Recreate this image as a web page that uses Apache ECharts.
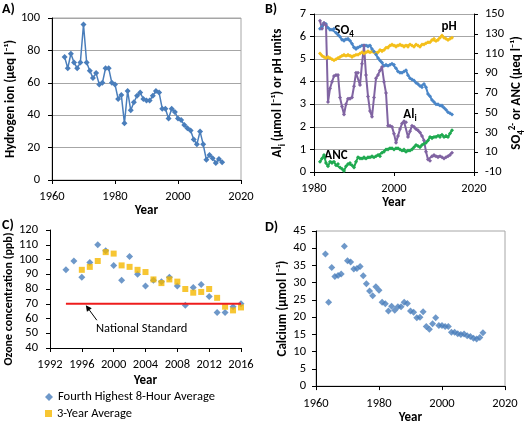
<!DOCTYPE html>
<html><head><meta charset="utf-8">
<script src="https://cdn.jsdelivr.net/npm/echarts@6/dist/echarts.min.js"></script>
<style>html,body{margin:0;padding:0;background:#fff}#c{width:527px;height:425px}</style>
</head><body><div id="c"></div>
<script>
// ---------- Panel A: hydrogen ion ----------
const aYears = [1964,1965,1966,1967,1968,1969,1970,1971,1972,1973,1974,1975,1976,1977,1978,1979,1980,1981,1982,1983,1984,1985,1986,1987,1988,1989,1990,1991,1992,1993,1994,1995,1996,1997,1998,1999,2000,2001,2002,2003,2004,2005,2006,2007,2008,2009,2010,2011,2012,2013,2014];
const aHydrogen = [76,69,78,72.5,69,72.5,96,72.5,67.5,63,66,59,60,69,69,60,59,50,52.5,35,55,43,48,52,54,50,49,49,52,55,54,44,44,38,44,42,38,37,34,32,30.5,25,22,30,22,12.5,15.5,13.5,10.5,13,11];

// ---------- Panel B: stream chemistry ----------
const bYears = [1981.5,1982,1982.5,1983,1983.5,1984,1984.5,1985,1985.5,1986,1986.5,1987,1987.5,1988,1988.5,1989,1989.5,1990,1990.5,1991,1991.5,1992,1992.5,1993,1993.5,1994,1994.5,1995,1995.5,1996,1996.5,1997,1997.5,1998,1998.5,1999,1999.5,2000,2000.5,2001,2001.5,2002,2002.5,2003,2003.5,2004,2004.5,2005,2005.5,2006,2006.5,2007,2007.5,2008,2008.5,2009,2009.5,2010,2010.5,2011,2011.5,2012,2012.5,2013,2013.5,2014,2014.5];
const bSO4 = [135,137,141,140,136,134,134,135,131,129,127,124,123,124.5,125,123,120,116,114.5,116,117,118,118,118,117,118,114.5,112,109,105.5,103,101,97.5,98.5,97.5,98.5,99.7,98.5,95,91.7,90.6,90.6,91.7,93,88,85,83.7,82.6,80.3,79,77,75.7,79,75.7,69,66.6,63,61,58.6,58.6,57.4,57.4,55,53,50.6,49.4,48.3];
const bPH = [5.25,5.15,5.1,5.05,5.1,5.05,5.0,4.95,5.0,5.05,5.1,5.15,5.2,5.15,5.2,5.15,5.1,5.15,5.2,5.2,5.25,5.3,5.25,5.3,5.35,5.3,5.35,5.3,5.25,5.3,5.4,5.35,5.4,5.5,5.5,5.6,5.65,5.6,5.55,5.6,5.65,5.6,5.55,5.6,5.55,5.65,5.6,5.55,5.65,5.6,5.55,5.65,5.65,5.7,5.75,5.75,5.85,5.9,5.8,5.85,5.95,6.05,5.95,5.9,5.85,5.9,5.95];
const bAli = [6.7,6.35,6.6,6.5,3.1,3.7,4.0,4.25,4.3,4.3,3.3,2.9,2.55,3.0,3.25,3.25,3.3,3.8,4.4,4.4,3.85,4.8,5.6,4.3,3.35,2.7,2.45,3.3,4.15,4.3,4.5,4.65,4.0,3.5,2.05,2.05,2.0,1.7,1.3,1.6,1.9,2.15,2.25,2.2,1.55,1.8,2.05,2.0,1.9,1.85,1.75,1.6,1.4,0.9,0.55,0.5,0.7,0.75,0.7,0.65,0.7,0.65,0.6,0.65,0.7,0.75,0.85];
const bANC = [0.3,3.7,7.1,-0.9,-4.3,0.3,-0.9,0.3,-3.1,-2.0,-5.4,-6.6,-8.9,-4.3,-2.0,-0.9,-3.1,-5.4,0.3,4.9,3.7,3.7,4.9,3.7,4.9,4.9,6.0,4.9,6.0,7.1,6.0,9.4,10.6,12.9,12.9,14.0,14.0,12.9,14.0,14.0,12.9,11.7,12.9,10.6,11.7,11.7,12.9,15.1,17.4,16.3,15.1,17.4,18.6,19.7,22.0,25.4,24.3,25.4,25.4,26.6,25.4,27.7,25.4,26.6,25.4,28.9,32.3];

// ---------- Panel C: ozone ----------
const cYears = [1994,1995,1996,1997,1998,1999,2000,2001,2002,2003,2004,2005,2006,2007,2008,2009,2010,2011,2012,2013,2014,2015,2016];
const cFourthHighest = [93,99,88,98,110,106,96,86,102,90,82,86,85,88,82,69,81,83,75,64,64,68,70];
const cThreeYear = [null,null,93,95,99,105,104,96,95,93,91.5,86.5,84,86.5,85,80,77.5,78,80,74,68,65.5,67.5];
const cStandardYears = [1994,2016];
const cStandardValue = 70;
const cLegendNames = ['Fourth Highest 8-Hour Average','3-Year Average'];

// ---------- Panel D: calcium ----------
const dYears = [1963,1964,1965,1966,1967,1968,1969,1970,1971,1972,1973,1974,1975,1976,1977,1978,1979,1980,1981,1982,1983,1984,1985,1986,1987,1988,1989,1990,1991,1992,1993,1994,1995,1996,1997,1998,1999,2000,2001,2002,2003,2004,2005,2006,2007,2008,2009,2010,2011,2012,2013];
const dCalcium = [38.3,24.3,34.4,31.8,32.1,32.5,40.6,36.4,36.0,34.0,34.1,34.7,32.0,29.7,27.6,26.2,28.8,27.8,24.3,23.9,21.8,23.2,22.0,23.0,23.0,24.3,24.0,21.8,21.4,19.8,20.0,21.6,17.3,16.5,18.1,19.8,17.6,17.6,17.3,17.3,15.6,15.6,15.2,15.0,15.1,14.6,14.4,13.9,13.7,14.1,15.5];

const FONT = 'Carlito, Lato, "Open Sans", sans-serif';
function pairs(xs, ys){ const out=[]; xs.forEach((x,i)=>{ if(ys[i]!=null) out.push([x,ys[i]]); }); return out; }

const axLine = {show:true, onZero:false, lineStyle:{color:'#000', width:1}};
const tick = {show:true, length:4, lineStyle:{color:'#000'}};
function lab(m){ return {fontSize:12.5, color:'#000', margin:m, fontFamily:FONT, formatter:function(v){return String(v);}}; }
const nameStyle = {fontSize:13, fontWeight:'bold', color:'#000', fontFamily:FONT};
const grey = '#a6a6a6';

function xAx(gi, min, max, iv, margin, gap){
  return {type:'value', gridIndex:gi, min:min, max:max, interval:iv, axisLine:axLine, axisTick:tick,
    splitLine:{show:false}, axisLabel:lab(margin), name:'Year', nameLocation:'middle', nameGap:gap, nameTextStyle:nameStyle};
}

const blue = '#4a7ebb';
const richName = {
  n:{fontSize:13, fontWeight:'bold', color:'#000', fontFamily:FONT, lineHeight:18},
  s:{fontSize:9, fontWeight:'bold', color:'#000', fontFamily:FONT, lineHeight:9, verticalAlign:'bottom'},
  p:{fontSize:9, fontWeight:'bold', color:'#000', fontFamily:FONT, lineHeight:9, verticalAlign:'top'}
};
const legendText = {fontSize:12.5, color:'#000', fontFamily:FONT, lineHeight:14};

const option = {
  animation:false,
  textStyle:{fontFamily:FONT},
  title:[
    {text:'A)', left:0, top:0, textStyle:{fontSize:14, fontWeight:'bold', color:'#000', fontFamily:FONT}, padding:[2,2]},
    {text:'B)', left:263, top:0, textStyle:{fontSize:14, fontWeight:'bold', color:'#000', fontFamily:FONT}, padding:[2,2]},
    {text:'C)', left:0, top:216, textStyle:{fontSize:14, fontWeight:'bold', color:'#000', fontFamily:FONT}, padding:[2,2]},
    {text:'D)', left:263, top:218, textStyle:{fontSize:14, fontWeight:'bold', color:'#000', fontFamily:FONT}, padding:[2,2]}
  ],
  grid:[
    {left:52, top:18, width:189, height:162, show:true, borderColor:grey, borderWidth:1, backgroundColor:'transparent'},
    {left:314, top:14, width:165, height:158, show:false},
    {left:50, top:230, width:191, height:118, show:false},
    {left:316, top:231, width:189, height:158, show:true, borderColor:grey, borderWidth:1, backgroundColor:'transparent'}
  ],
  xAxis:[
    xAx(0, 1960, 2020, 20, 10, 22),
    xAx(1, 1980, 2020, 20, 10, 23),
    xAx(2, 1992, 2016, 4, 10, 26),
    xAx(3, 1960, 2020, 20, 11, 24)
  ],
  yAxis:[
    {type:'value', gridIndex:0, min:0, max:100, interval:20, axisLine:axLine, axisTick:tick,
     splitLine:{show:true, lineStyle:{color:grey, width:1}}, axisLabel:lab(12),
     name:'Hydrogen ion (µeq l⁻¹)', nameLocation:'middle', nameGap:35, nameRotate:90, nameTextStyle:nameStyle},
    {type:'value', gridIndex:1, min:0, max:7, interval:1, axisLine:axLine, axisTick:tick,
     splitLine:{show:true, lineStyle:{color:grey, width:1}}, axisLabel:lab(8),
     name:'{n|Al}{s|i}{n| (µmol l⁻¹) or pH units}', nameLocation:'middle', nameGap:27, nameRotate:90,
     nameTextStyle:{rich:richName}},
    {type:'value', gridIndex:1, position:'right', min:-10, max:150, interval:20, axisLine:axLine, axisTick:tick,
     splitLine:{show:false}, axisLabel:lab(11),
     name:'{n|SO}{s|4}{p|2-}{n| or ANC (µeq l⁻¹)}', nameLocation:'middle', nameGap:34, nameRotate:90,
     nameTextStyle:{rich:richName}},
    {type:'value', gridIndex:2, min:40, max:120, interval:10, axisLine:axLine, axisTick:tick,
     splitLine:{show:false}, axisLabel:lab(12),
     name:'Ozone concentration (ppb)', nameLocation:'middle', nameGap:33, nameRotate:90,
     nameTextStyle:{fontSize:12, fontWeight:'bold', color:'#000', fontFamily:FONT, padding:[0,20,0,0]}},
    {type:'value', gridIndex:3, min:0, max:45, interval:5, axisLine:axLine, axisTick:tick,
     splitLine:{show:false}, axisLabel:lab(10),
     name:'Calcium (µmol l⁻¹)', nameLocation:'middle', nameGap:27, nameRotate:90, nameTextStyle:nameStyle}
  ],
  legend:[
    {left:45, top:390, padding:0, itemWidth:8, itemHeight:8, textStyle:legendText,
     data:[{name:cLegendNames[0], icon:'diamond'}]},
    {left:45, top:406.5, padding:0, itemWidth:7, itemHeight:7, textStyle:legendText,
     data:[{name:cLegendNames[1], icon:'rect'}]}
  ],
  series:[
    {type:'line', name:'Hydrogen', xAxisIndex:0, yAxisIndex:0, data:pairs(aYears,aHydrogen),
     symbol:'diamond', symbolSize:6, lineStyle:{color:blue, width:1.5}, itemStyle:{color:blue}},
    {type:'line', name:'pH', xAxisIndex:1, yAxisIndex:1, data:pairs(bYears,bPH),
     symbol:'diamond', symbolSize:4, lineStyle:{color:'#f4bf1a', width:2}, itemStyle:{color:'#f4bf1a'}},
    {type:'line', name:'SO4', xAxisIndex:1, yAxisIndex:2, data:pairs(bYears,bSO4),
     symbol:'diamond', symbolSize:4, lineStyle:{color:'#4a86c8', width:2}, itemStyle:{color:'#4a86c8'}},
    {type:'line', name:'ANC', xAxisIndex:1, yAxisIndex:2, data:pairs(bYears,bANC),
     symbol:'diamond', symbolSize:4, lineStyle:{color:'#1faa50', width:2}, itemStyle:{color:'#1faa50'}},
    {type:'line', name:'Ali', xAxisIndex:1, yAxisIndex:1, data:pairs(bYears,bAli),
     symbol:'diamond', symbolSize:4, lineStyle:{color:'#8064a2', width:2}, itemStyle:{color:'#8064a2'}},
    {type:'line', name:'National Standard', xAxisIndex:2, yAxisIndex:3,
     data:cStandardYears.map(y=>[y,cStandardValue]), symbol:'none', lineStyle:{color:'#ee1c1c', width:2}},
    {type:'scatter', name:cLegendNames[0], xAxisIndex:2, yAxisIndex:3, data:pairs(cYears,cFourthHighest),
     symbol:'diamond', symbolSize:7, itemStyle:{color:blue}},
    {type:'scatter', name:cLegendNames[1], xAxisIndex:2, yAxisIndex:3, data:pairs(cYears,cThreeYear),
     symbol:'rect', symbolSize:6, itemStyle:{color:'#f5b800'}},
    {type:'scatter', name:'Calcium', xAxisIndex:3, yAxisIndex:4, data:pairs(dYears,dCalcium),
     symbol:'diamond', symbolSize:7, itemStyle:{color:blue}}
  ]
};

const chart = echarts.init(document.getElementById('c'), null, {renderer:'canvas'});
chart.setOption(option);

const lblStyle = {fontSize:13, fontWeight:'bold', fill:'#000', fontFamily:FONT};
const richLbl = {
  a:{fontSize:13, fontWeight:'bold', color:'#000', fontFamily:FONT, lineHeight:16},
  b:{fontSize:9, fontWeight:'bold', color:'#000', fontFamily:FONT, lineHeight:8, verticalAlign:'bottom'}
};
const tip = chart.convertToPixel({gridIndex:2}, [1996.5, 69]);
const tail = [tip[0]+11, tip[1]+15];
const ang = Math.atan2(tail[1]-tip[1], tail[0]-tip[0]);
const hl = 6, hw = 3;
const bx = tip[0] + hl*Math.cos(ang), by = tip[1] + hl*Math.sin(ang);
const head = [[tip[0],tip[1]],[bx - hw*Math.sin(ang), by + hw*Math.cos(ang)],[bx + hw*Math.sin(ang), by - hw*Math.cos(ang)]];

chart.setOption({graphic:[
  {type:'text', x:344, y:31, style:{text:'{a|SO}{b|4}', rich:richLbl, align:'center', verticalAlign:'middle'}},
  {type:'text', x:449, y:27, style:Object.assign({text:'pH', align:'center', verticalAlign:'middle'}, lblStyle)},
  {type:'text', x:410, y:115, style:{text:'{a|Al}{b|i}', rich:richLbl, align:'center', verticalAlign:'middle'}},
  {type:'text', x:336, y:156, style:Object.assign({text:'ANC', align:'center', verticalAlign:'middle'}, lblStyle)},
  {type:'text', x:96, y:329, style:{text:'National Standard', fontSize:12.5, fill:'#000', fontFamily:FONT, verticalAlign:'middle'}},
  {type:'line', shape:{x1:tail[0], y1:tail[1], x2:bx, y2:by}, style:{stroke:'#000', lineWidth:1}},
  {type:'polygon', shape:{points:head}, style:{fill:'#000'}}
]});
</script>
</body></html>
